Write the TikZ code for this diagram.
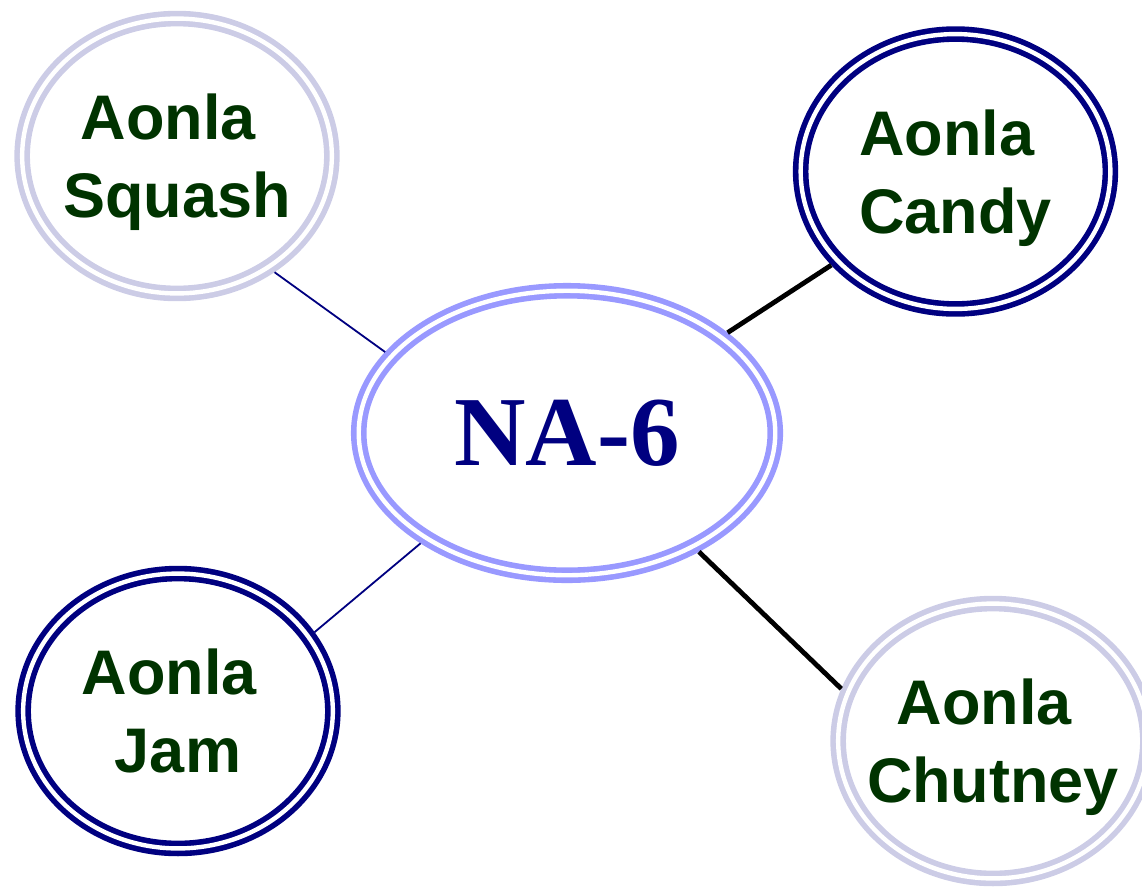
\documentclass[tikz,border=0pt]{standalone}
\usepackage{fontspec}
\usetikzlibrary{shapes.geometric}
\newfontfamily\leaffont{Liberation Sans}
\newfontfamily\hubfont{Liberation Serif}
\definecolor{navy}{HTML}{000080}
\definecolor{palering}{HTML}{CCCCE6}
\definecolor{hubring}{HTML}{9999FF}
\definecolor{leafgreen}{HTML}{003300}
\newcommand{\nodepth}[1]{\raisebox{0pt}[\height][0pt]{#1}}
\tikzset{
	ring/.style={ellipse, double=white, line width=0.14cm, double distance=0.11cm, outer sep=0.195cm, inner sep=0pt},
	leaf/.style={ring, inner xsep=-1cm, minimum width=7.74cm, minimum height=6.87cm, align=center, text=leafgreen, font=\leaffont\bfseries\fontsize{44.8pt}{55.5pt}\selectfont},
	hub/.style={ring, draw=hubring, minimum width=10.41cm, minimum height=7.11cm, text=navy, font=\hubfont\bfseries\fontsize{70.4pt}{84pt}\selectfont},
	thinlink/.style={navy, line width=0.045cm},
	boldlink/.style={black, line width=0.12cm}
}
\begin{document}
\begin{tikzpicture}[x=0.025cm, y=-0.025cm]
			\useasboundingbox (0,0) rectangle (1142,888);
			\node[leaf, draw=palering] (squash) at (177,156) {Aonla\kern.28em\\\nodepth{Squash}};
			\node[leaf, draw=navy] (candy) at (955.5,171.5) {Aonla\kern.28em\\\nodepth{Candy}};
			\node[hub] (na6) at (567,433) {NA-6};
			\node[leaf, draw=navy] (jam) at (178,711) {Aonla\kern.28em\\Jam};
			\node[leaf, draw=palering] (chutney) at (993,741) {Aonla\kern.28em\\\nodepth{Chutney}};
			\draw[thinlink] (squash.310.8) -- (na6.156.6);
			\draw[boldlink] (na6.32.2) -- (candy.217.9);
			\draw[thinlink] (jam.30.1) -- (na6.217.4);
			\draw[boldlink] (na6.318.8) -- (chutney.161.2);
		\end{tikzpicture}
\end{document}
